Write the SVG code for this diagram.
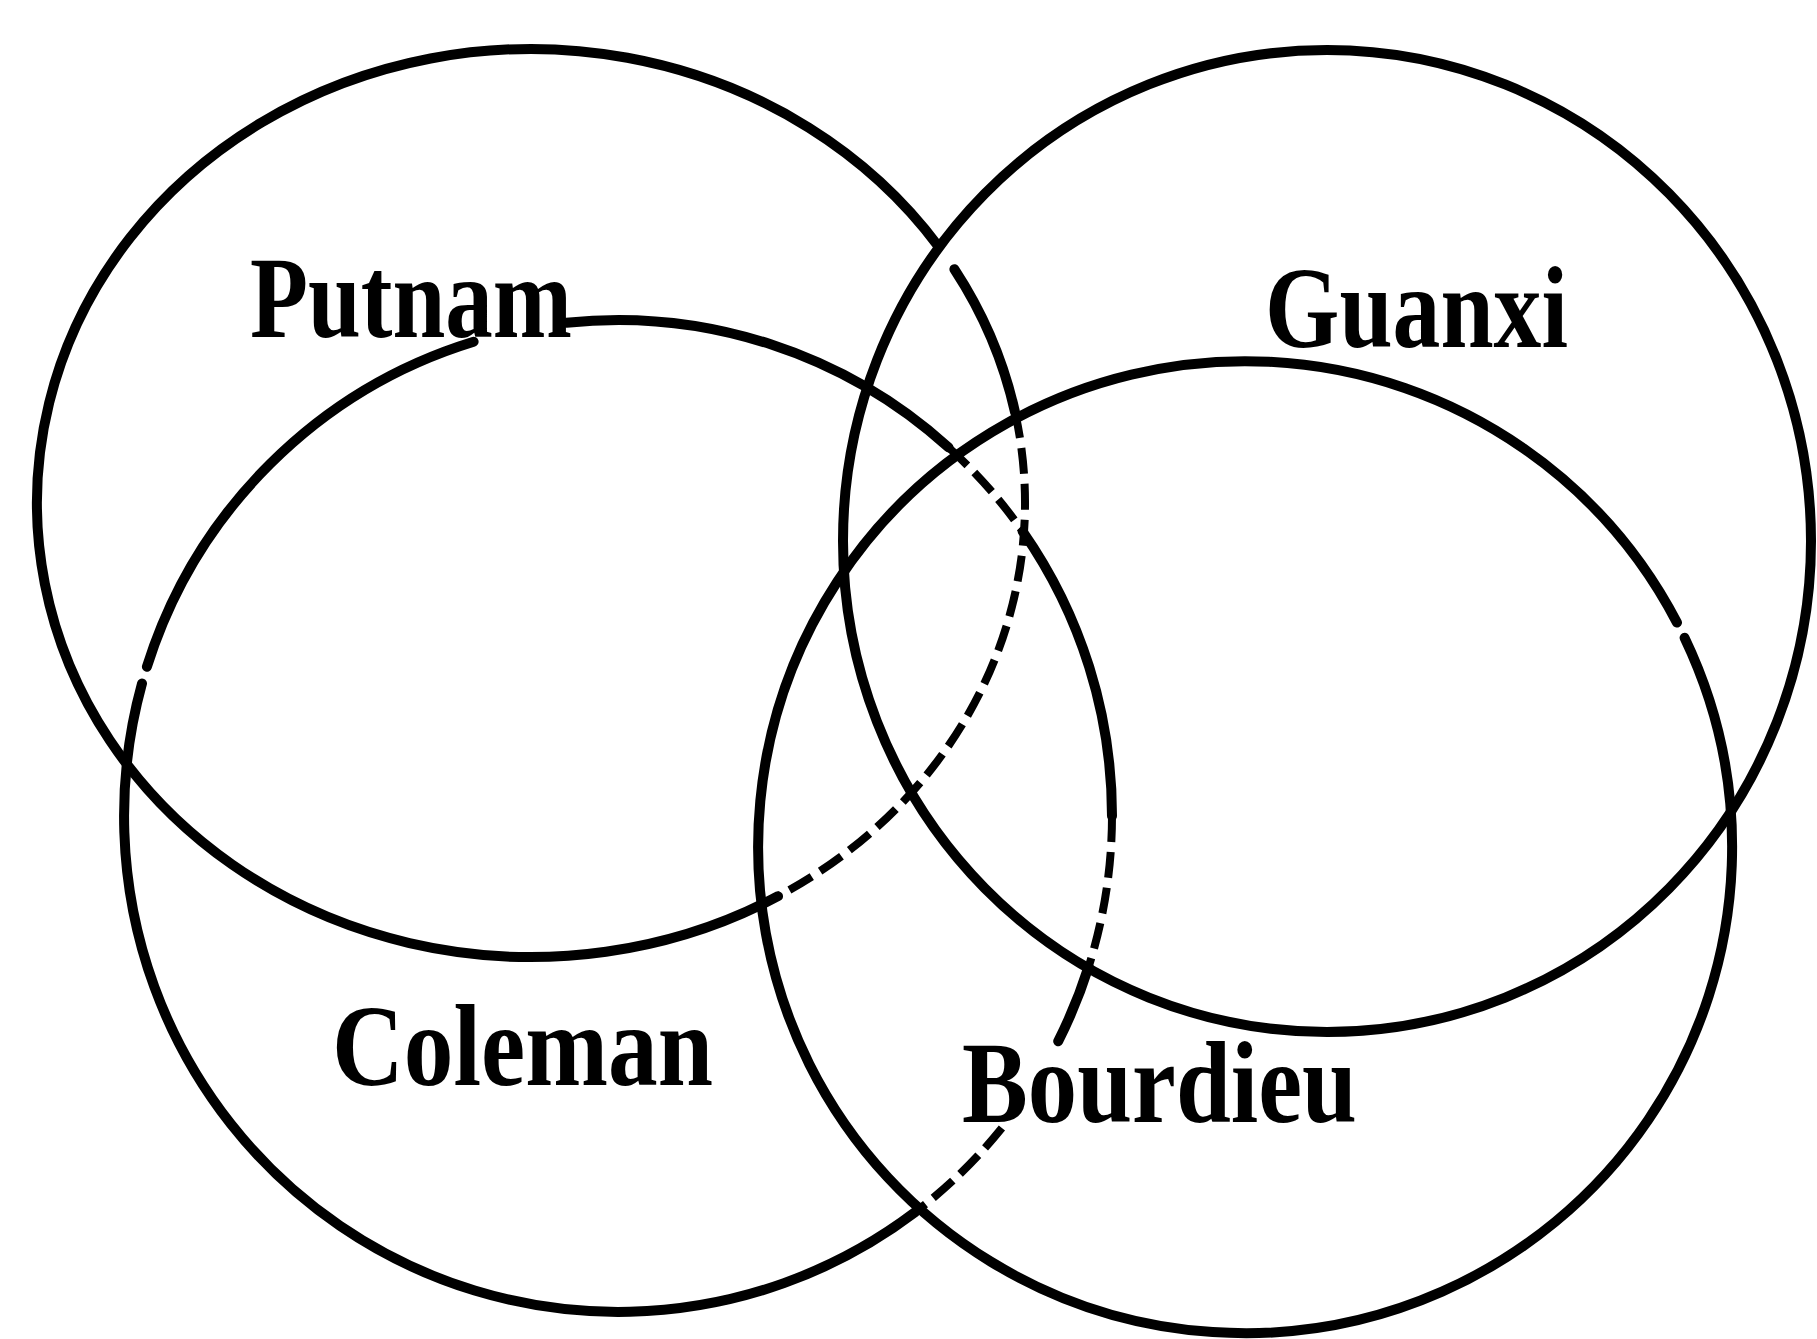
<svg xmlns="http://www.w3.org/2000/svg" width="1817" height="1339" viewBox="0 0 1817 1339">
<style>
.ln{fill:none;stroke:#000;stroke-width:10;stroke-linecap:round}
.ds{fill:none;stroke:#000;stroke-width:8;stroke-dasharray:26 10;stroke-linecap:butt}
.lb{font-family:"Liberation Serif","Times New Roman",serif;font-weight:bold;font-size:116px;fill:#000}
</style>
<rect width="1817" height="1339" fill="#fff"/>
<g id="putnam">
<path class="ln" d="M 778 896.2 A 494 454 0 1 1 938.1 245.9"/>
<path class="ln" d="M 954.4 269.2 A 494 454 0 0 1 1015.1 412.5"/>
<path class="ds" d="M 1015.1 412.5 A 494 454 0 0 1 778 896.2"/>
<text class="lb" x="250" y="337" textLength="322" lengthAdjust="spacingAndGlyphs">Putnam</text>
</g>
<g id="guanxi">
<ellipse class="ln" cx="1327" cy="541" rx="484" ry="491"/>
<text class="lb" x="1265" y="347" textLength="303" lengthAdjust="spacingAndGlyphs">Guanxi</text>
</g>
<g id="coleman">
<path class="ds" d="M 948.5 447.4 A 494 496 0 0 1 1022.7 531.5"/>
<path class="ln" d="M 1022.7 531.5 A 494 496 0 0 1 1112 816"/>
<path class="ds" d="M 1112 816 A 494 496 0 0 1 1088.6 966.8"/>
<path class="ln" d="M 1088.6 966.8 A 494 496 0 0 1 1058.2 1041.2"/>
<path class="ds" d="M 1001.9 1128.1 A 494 496 0 0 1 915.3 1212.1"/>
<path class="ln" d="M 915.3 1212.1 A 494 496 0 0 1 142 683.5"/>
<path class="ln" d="M 146.9 666.8 A 494 496 0 0 1 473.6 341.7"/>
<path class="ln" d="M 566.4 322.7 A 494 496 0 0 1 948.5 447.4"/>
<text class="lb" x="332" y="1085" textLength="381" lengthAdjust="spacingAndGlyphs">Coleman</text>
</g>
<g id="bourdieu">
<path class="ln" d="M 1684.6 637.8 A 487 486 0 1 1 1677 622.6"/>
<text class="lb" x="962" y="1122" textLength="395" lengthAdjust="spacingAndGlyphs">Bourdieu</text>
</g>
<g id="connectors"></g>
</svg>
